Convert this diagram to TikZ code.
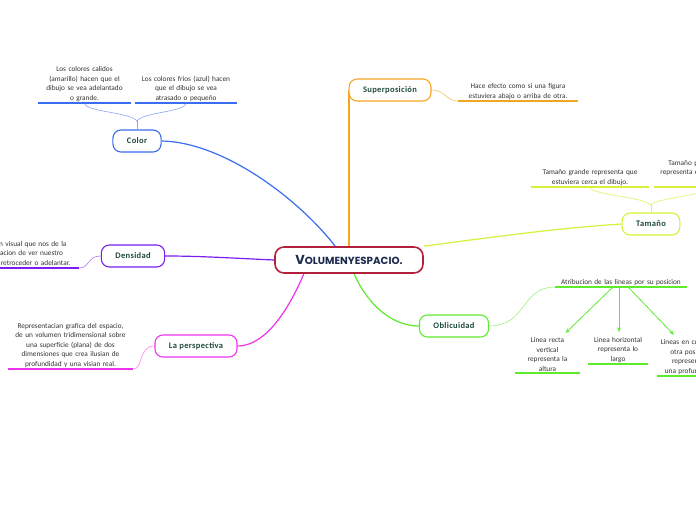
\documentclass[tikz,border=0pt]{standalone}
\usepackage{fontspec}
\setmainfont{Carlito}
\newfontfamily\rootfont{Poppins}
\newfontfamily\labelfont{Carlito}[LetterSpace=4]
\usetikzlibrary{positioning,arrows.meta,calc,backgrounds}
\definecolor{colorBlue}{HTML}{3A6DF0}
\definecolor{supOrange}{HTML}{F5A524}
\definecolor{tamLime}{HTML}{D8F03A}
\definecolor{densPurple}{HTML}{7A1FF0}
\definecolor{perspMagenta}{HTML}{EE33EE}
\definecolor{oblGreen}{HTML}{5EEB2E}
\definecolor{rootRed}{HTML}{B3203C}
\definecolor{rootNavy}{HTML}{1C2B4E}
\definecolor{labelGreen}{HTML}{1F4A3A}
\definecolor{leafGray}{HTML}{333333}
\newcommand{\leaftext}{\fontsize{7.3}{9.5}\selectfont}

\begin{document}
\begin{tikzpicture}[
    x=1pt, y=-1pt,
    topic/.style={draw, line width=1.1pt, fill=white, rounded corners=8pt, minimum height=22pt, inner xsep=14pt, font=\labelfont\bfseries\fontsize{8.5}{8.5}\selectfont, text=labelGreen},
    leaf/.style={anchor=south, align=center, inner sep=1.5pt, font=\leaftext, text=leafGray},
    branch/.style={line width=1.2pt},
    twig/.style={line width=0.6pt},
    uline/.style={line width=1.8pt},
    arrow/.style={-{Stealth[length=5pt]}, line width=0.8pt}
  ]
  \useasboundingbox (0,0) rectangle (696,520);
  \begin{scope}[on background layer]
    \fill[white] (0,0) rectangle (696,520);
  \end{scope}

  % central topic
  \node[draw=rootRed, line width=1.6pt, fill=white, rounded corners=9pt, minimum width=148pt, minimum height=26pt, text=rootNavy] (root) at (349,260)
    {\rootfont\bfseries{\fontsize{13}{13}\selectfont V}{\fontsize{10.3}{13}\selectfont OLUMENYESPACIO.}};

  % main topics
  \node[topic, draw=colorBlue] (color) at (137,141) {Color};
  \node[topic, draw=supOrange] (sup) at (390,90) {Superposición};
  \node[topic, draw=tamLime] (tam) at (651,224) {Tamaño};
  \node[topic, draw=densPurple] (dens) at (133,256) {Densidad};
  \node[topic, draw=perspMagenta] (persp) at (196,346) {La perspectiva};
  \node[topic, draw=oblGreen] (obl) at (454,326) {Oblicuidad};

  % Color
  \node[leaf, text width=90pt] (calA) at (84.5,103)
    {Los colores calidos\\(amarillo) hacen que el\\dibujo se vea adelantado\\o grande.};
  \node[leaf, text width=99pt] (calB) at (186,103)
    {Los colores frios (azul) hacen\\que el dibujo se vea\\atrasado o pequeño};
  \draw[uline, colorBlue] (calA.south west) -- (calA.south east);
  \draw[uline, colorBlue] (calB.south west) -- (calB.south east);

  % Superposicion
  \node[leaf, text width=117pt] (hace) at (518,101)
    {Hace efecto como si una figura\\estuviera abajo o arriba de otra.};
  \draw[uline, supOrange] (hace.south west) -- (hace.south east);

  % Tamano
  \node[leaf, text width=115pt] (tamA) at (590,187)
    {Tamaño grande representa que\\estuviera cerca el dibujo.};
  \node[leaf, text width=113pt] (tamB) at (712,187)
    {Tamaño pequeño o mediano\\representa que estuviera lejos del\\dibujo.};
  \draw[uline, tamLime] (tamA.south west) -- (tamA.south east);
  \draw[uline, tamLime] (tamB.south west) -- (tamB.south east);

  % Densidad
  \node[leaf, text width=104pt] (densA) at (25,268)
    {Ilusion visual que nos de la\\sensacion de ver nuestro\\dibujo retroceder o adelantar.};
  \draw[uline, densPurple] (densA.south west) -- (densA.south east);

  % La perspectiva
  \node[leaf, text width=122pt] (perspA) at (70.5,369)
    {Representacian grafica del espacio,\\de un volumen tridimensional sobre\\una superficie (plana) de dos\\dimensiones que crea ilusian de\\profundidad y una visian real.};
  \draw[uline, perspMagenta] (perspA.south west) -- (perspA.south east);

  % Oblicuidad
  \node[leaf, text width=129pt] (atr) at (621,287)
    {Atribucion de las lineas por su posicion};
  \draw[uline, oblGreen] (atr.south west) -- (atr.south east);
  \node[leaf, text width=62pt] (subA) at (547.5,373)
    {Linea recta\\vertical\\representa la\\altura};
  \node[leaf, text width=57pt] (subB) at (618,364)
    {Linea horizontal\\representa lo\\largo};
  \node[leaf, text width=62pt] (subC) at (690,376)
    {Lineas en cualquier\\otra posicion\\representan\\una profundidad};
  \draw[uline, oblGreen] (subA.south west) -- (subA.south east);
  \draw[uline, oblGreen] (subB.south west) -- (subB.south east);
  \draw[uline, oblGreen] (subC.south west) -- (subC.south east);

  \begin{scope}[on background layer]
    % branches from the centre
    \draw[branch, colorBlue] (root.135) .. controls (297,197) and (222,142) .. (color.east);
    \draw[branch, supOrange] (root.north) -- (root.north |- sup.west);
    \draw[branch, tamLime] (root.north east) .. controls (500,236) and (560,228) .. (tam.west);
    \draw[branch, densPurple] (root.west) .. controls (230,258) and (200,256) .. (dens.east);
    \draw[branch, perspMagenta] (root.197) .. controls (285,318) and (262,346) .. (persp.east);
    \draw[branch, oblGreen] (root.-70) .. controls (368,305) and (392,326) .. (obl.west);

    % twigs to the notes
    \draw[twig, colorBlue!60] (color.north) -- ++(0,-8) coordinate (cfork);
    \draw[twig, colorBlue!60] (cfork) .. controls +(-3,-9) and +(0,9) .. (calA.south);
    \draw[twig, colorBlue!60] (cfork) .. controls +(3,-9) and +(0,9) .. (calB.south);
    \draw[twig, supOrange!70] (sup.east) .. controls +(14,0) and +(-12,0) .. (hace.south west);
    \draw[twig, tamLime!80] (tam.north) -- ++(0,-7) coordinate (tfork);
    \draw[twig, tamLime!80] (tfork) .. controls +(-3,-8) and +(0,8) .. (tamA.south);
    \draw[twig, tamLime!80] (tfork) .. controls +(3,-8) and +(0,8) .. (tamB.south);
    \draw[twig, densPurple!60] (dens.west) .. controls +(-14,0) and +(12,0) .. (densA.south east);
    \draw[twig, perspMagenta!60] (persp.west) .. controls +(-16,0) and +(10,0) .. (perspA.south east);
    \draw[twig, oblGreen!60] (obl.east) .. controls +(38,0) and +(-34,0) .. (atr.south west);
  \end{scope}

  % arrows to the kinds of lines
  \draw[arrow, oblGreen] ($(atr.south)+(-8,0)$) -- ($(subA.north)+(18,-3)$);
  \draw[arrow, oblGreen] ($(atr.south)+(-2,0)$) -- ($(subB.north)+(1,-3)$);
  \draw[arrow, oblGreen] ($(atr.south)+(7,0)$) -- ($(subC.north)+(-16,-3)$);
\end{tikzpicture}
\end{document}
